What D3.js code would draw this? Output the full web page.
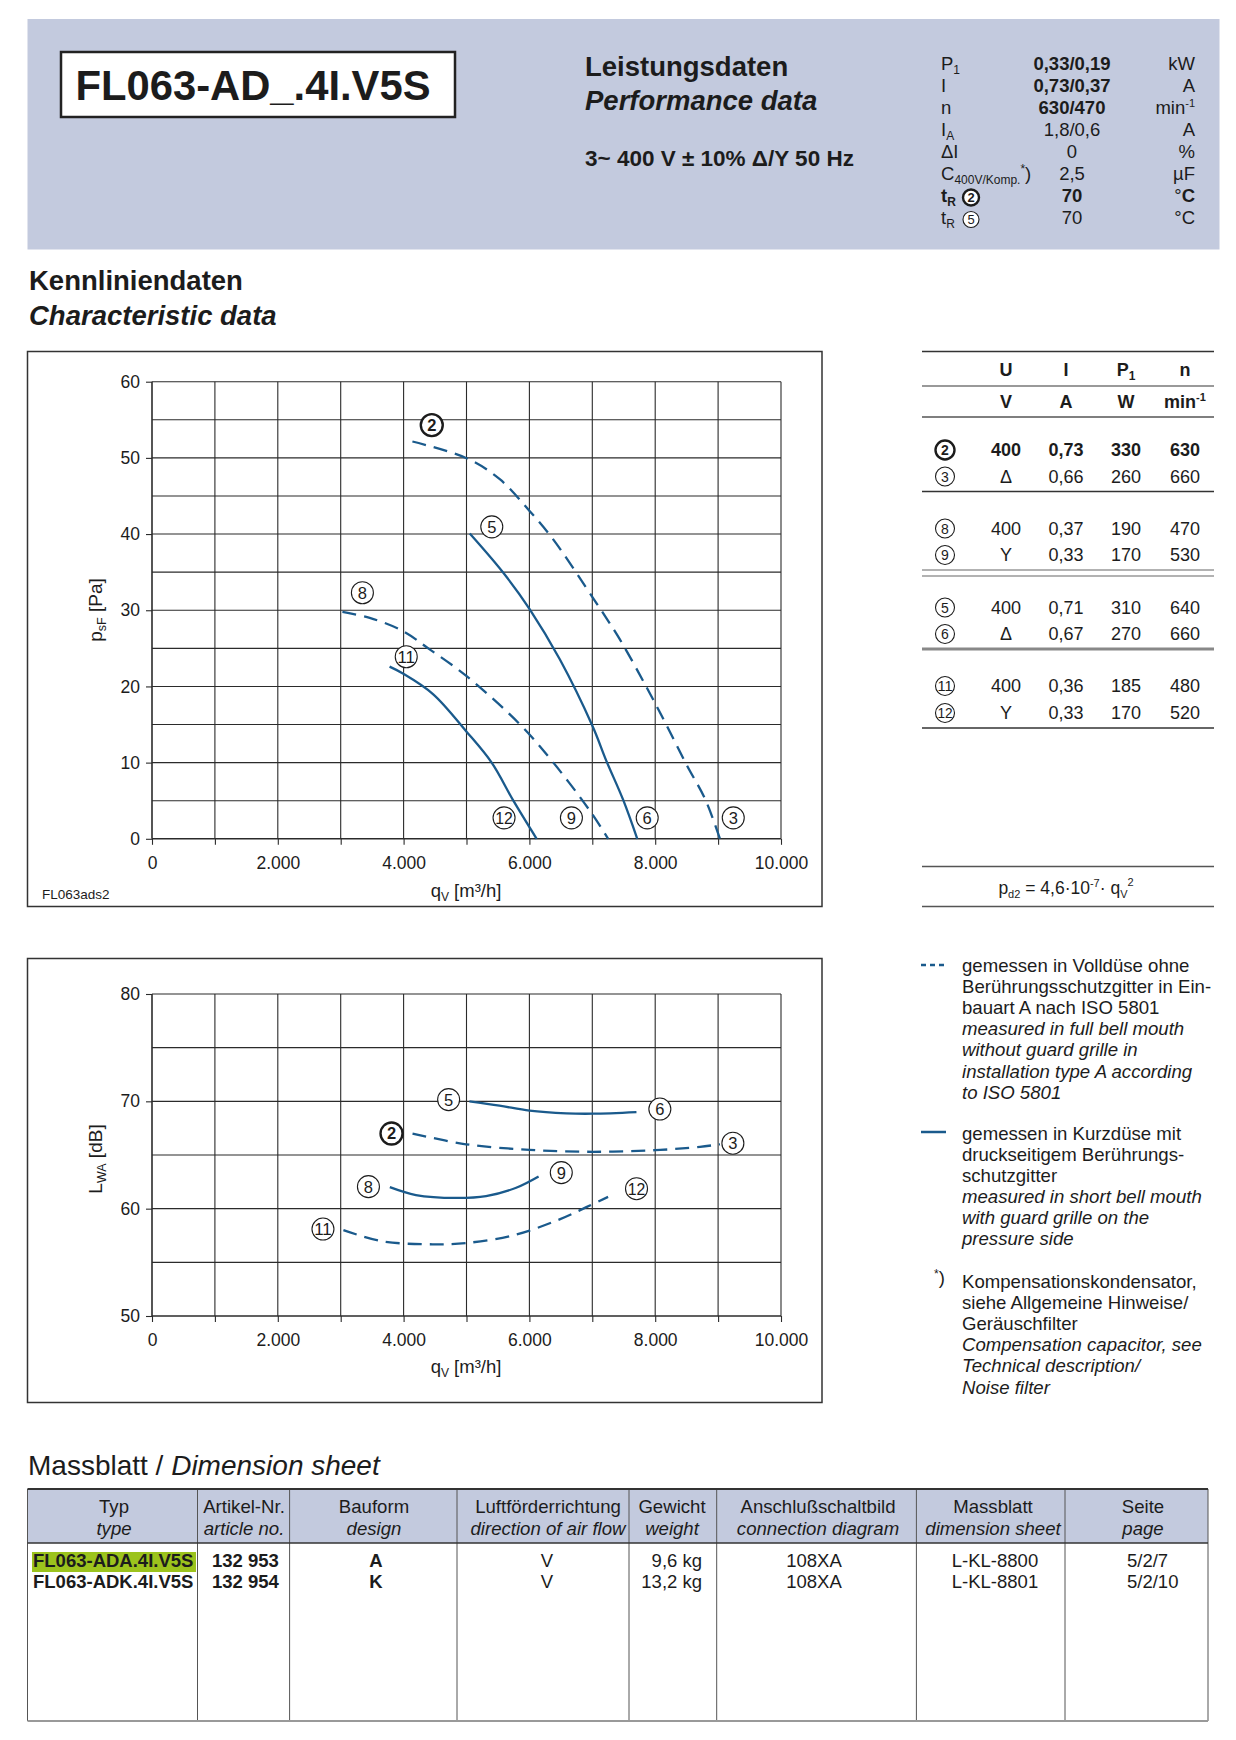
<!DOCTYPE html>
<html><head><meta charset="utf-8">
<script src="https://cdn.jsdelivr.net/npm/d3@7"></script>
<style>
body{margin:0;background:#fff}
svg{display:block}
text{font-family:"Liberation Sans",Arial,Helvetica,sans-serif;fill:#1c1c1c}
</style>
</head><body>
<svg id="c" width="1236" height="1740"></svg>
<script>
// ---------------- DATA ----------------
const modelName = "FL063-AD_.4I.V5S";
const perfValues = ["0,33/0,19","0,73/0,37","630/470","1,8/0,6","0","2,5","70","70"];
const perfUnits  = ["kW","A","min","A","%","µF","°C","°C"];
const perfBold   = [true,true,true,false,false,false,true,false];

const xTickValues = [0,1000,2000,3000,4000,5000,6000,7000,8000,9000,10000];
const pTickValues = [0,10,20,30,40,50,60];
const lTickValues = [50,60,70,80];

// pressure curves  [qV m3/h, psF Pa]
const curveP2  = [[4140,52.15],[5000,49.96],[5529,47.2],[6006,43.0],[6378,39.3],[7020,31.5],[7436,26.2],[7862,19.9],[8181,14.9],[8500,9.7],[8800,5.1],[9029,0]];
const curveP5  = [[5052,40.07],[5582,34.95],[6006,30.13],[6483,23.56],[7003,14.8],[7225,10.2],[7491,5.1],[7715,0]];
const curveP8  = [[3027,29.78],[3461,29.0],[3982,27.3],[4414,24.87],[4997,21.38],[5846,15.05],[6377,10.03],[6960,3.7],[7252,0]];
const curveP11 = [[3777,22.6],[3989,21.7],[4467,19.0],[4997,14.1],[5400,10.0],[5745,5.0],[6115,0]];
const pLabelIds = ["2","5","8","11","12","9","6","3"];
const pLabelX   = [4448,5402,3345,4042,5597,6668,7873,9241];
const pLabelY   = [54.3,40.95,32.3,23.9,2.75,2.75,2.75,2.75];

// sound curves [qV m3/h, LWA dB]
const curveL5  = [[5046,70.0],[5524,69.6],[6002,69.13],[6587,68.88],[7012,68.85],[7702,69.0]];
const curveL2  = [[4142,67.0],[4993,66.0],[6002,65.48],[7012,65.3],[8000,65.45],[8712,65.76],[9030,66.0]];
const curveL8  = [[3781,62.0],[4196,61.27],[4833,61.0],[5311,61.17],[5790,61.95],[6146,63.0]];
const curveL11 = [[3043,58.0],[3664,56.96],[4461,56.68],[4993,56.8],[5736,57.5],[6480,59.0],[6905,60.14],[7251,61.1]];
const lLabelIds = ["5","6","2","3","8","9","12","11"];
const lLabelX   = [4716,8074,3808,9235,3441,6507,7703,2718];
const lLabelY   = [70.16,69.28,67.0,66.1,62.05,63.36,61.86,58.1];

// operating-point table
const tblIds = ["2","3","8","9","5","6","11","12"];
const tblU   = ["400","Δ","400","Y","400","Δ","400","Y"];
const tblI   = ["0,73","0,66","0,37","0,33","0,71","0,67","0,36","0,33"];
const tblP   = ["330","260","190","170","310","270","185","170"];
const tblN   = ["630","660","470","530","640","660","480","520"];

// legend text
const legendDashed = ["gemessen in Volldüse ohne","Berührungsschutzgitter in Ein-","bauart A nach ISO 5801","measured in full bell mouth","without guard grille in","installation type A according","to ISO 5801"];
const legendSolid  = ["gemessen in Kurzdüse mit","druckseitigem Berührungs-","schutzgitter","measured in short bell mouth","with guard grille on the","pressure side"];
const legendNote   = ["Kompensationskondensator,","siehe Allgemeine Hinweise/","Geräuschfilter","Compensation capacitor, see","Technical description/","Noise filter"];

// dimension sheet table
const dimHeadDe = ["Typ","Artikel-Nr.","Bauform","Luftförderrichtung","Gewicht","Anschlußschaltbild","Massblatt","Seite"];
const dimHeadEn = ["type","article no.","design","direction of air flow","weight","connection diagram","dimension sheet","page"];
const dimType   = ["FL063-ADA.4I.V5S","FL063-ADK.4I.V5S"];
const dimArticle= ["132 953","132 954"];
const dimDesign = ["A","K"];
const dimDir    = ["V","V"];
const dimWeight = ["9,6 kg","13,2 kg"];
const dimConn   = ["108XA","108XA"];
const dimSheet  = ["L-KL-8800","L-KL-8801"];
const dimPage   = ["5/2/7","5/2/10"];

// ---------------- DRAW ----------------
const svg = d3.select("#c");
const BLUE = "#1a5a8c";
const BAND = "#c3cade";
svg.append("rect").attr("width",1236).attr("height",1740).attr("fill","#fff");

// header band
svg.append("rect").attr("x",27.5).attr("y",19).attr("width",1192).attr("height",230.5).attr("fill",BAND);
svg.append("rect").attr("x",61).attr("y",52).attr("width",394).attr("height",65).attr("fill","#fff").attr("stroke","#222").attr("stroke-width",2.5);
svg.append("text").attr("x",253).attr("y",100).attr("text-anchor","middle").attr("font-size",42).attr("font-weight","bold")
  .attr("textLength",355).attr("lengthAdjust","spacingAndGlyphs").text(modelName);

svg.append("text").attr("x",585).attr("y",76).attr("font-size",27.5).attr("font-weight","bold").text("Leistungsdaten");
svg.append("text").attr("x",585).attr("y",110).attr("font-size",27.5).attr("font-weight","bold").attr("font-style","italic").text("Performance data");
svg.append("text").attr("x",585).attr("y",166).attr("font-size",22.5).attr("font-weight","bold").text("3~ 400 V ± 10% Δ/Y 50 Hz");

function circ(g, x, y, label, r, bold, fs){
  g.append("circle").attr("cx",x).attr("cy",y).attr("r",r).attr("fill","#fff")
    .attr("stroke","#1c1c1c").attr("stroke-width",bold?2.4:1.1);
  const t = g.append("text").attr("x",x).attr("y",y).attr("dy","0.36em").attr("text-anchor","middle")
    .attr("font-size",fs).attr("font-weight",bold?"bold":"normal").text(label);
  if(label.length>1) t.attr("textLength",r*1.6).attr("lengthAdjust","spacingAndGlyphs");
}

// performance block
const perf = svg.append("g");
const pfs = 18.5, pbase = 69.5, pstep = 22;
function sym(i){ return pbase + i*pstep; }
let t;
t = perf.append("text").attr("x",941).attr("y",sym(0)).attr("font-size",pfs); t.append("tspan").text("P"); t.append("tspan").attr("font-size",12).attr("dy",4).text("1");
perf.append("text").attr("x",941).attr("y",sym(1)).attr("font-size",pfs).text("I");
perf.append("text").attr("x",941).attr("y",sym(2)).attr("font-size",pfs).text("n");
t = perf.append("text").attr("x",941).attr("y",sym(3)).attr("font-size",pfs); t.append("tspan").text("I"); t.append("tspan").attr("font-size",12).attr("dy",4).text("A");
perf.append("text").attr("x",941).attr("y",sym(4)).attr("font-size",pfs).text("ΔI");
t = perf.append("text").attr("x",941).attr("y",sym(5)).attr("font-size",pfs); t.append("tspan").text("C"); t.append("tspan").attr("font-size",12).attr("dy",4).text("400V/Komp.");
  t.append("tspan").attr("font-size",12).attr("dy",-11).text("*"); t.append("tspan").attr("font-size",pfs).attr("dy",7).text(")");
t = perf.append("text").attr("x",941).attr("y",sym(6)).attr("font-size",pfs).attr("font-weight","bold"); t.append("tspan").text("t"); t.append("tspan").attr("font-size",12).attr("dy",4).text("R");
circ(perf, 971, sym(6)-4, "2", 8, true, 13);
t = perf.append("text").attr("x",941).attr("y",sym(7)).attr("font-size",pfs); t.append("tspan").text("t"); t.append("tspan").attr("font-size",12).attr("dy",4).text("R");
circ(perf, 971, sym(7)-4, "5", 8, false, 13);
perfValues.forEach((v,i)=>{
  perf.append("text").attr("x",1072).attr("y",sym(i)).attr("text-anchor","middle").attr("font-size",pfs)
    .attr("font-weight",perfBold[i]?"bold":"normal").text(v);
});
perfUnits.forEach((u,i)=>{
  const tx = perf.append("text").attr("x",1195).attr("y",sym(i)).attr("text-anchor","end").attr("font-size",pfs);
  if(u==="min"){ tx.append("tspan").text("min"); tx.append("tspan").attr("font-size",11).attr("dy",-7).text("-1"); }
  else if(i===6){ tx.append("tspan").text("°"); tx.append("tspan").attr("font-weight","bold").text("C"); }
  else tx.text(u);
});

// section title
svg.append("text").attr("x",29).attr("y",290).attr("font-size",27.5).attr("font-weight","bold").text("Kennliniendaten");
svg.append("text").attr("x",29).attr("y",325).attr("font-size",27.5).attr("font-weight","bold").attr("font-style","italic").text("Characteristic data");

// ---- chart helper ----
const fmtQ = v => v===0 ? "0" : d3.format(",")(v).replace(/,/g,".");
function chart(opt){
  const g = svg.append("g");
  g.append("rect").attr("x",opt.fx).attr("y",opt.fy).attr("width",opt.fw).attr("height",opt.fh)
    .attr("fill","#fff").attr("stroke","#333").attr("stroke-width",1.5);
  const x = d3.scaleLinear().domain([0,10000]).range([152,781]);
  const y = d3.scaleLinear().domain(opt.yDomain).range([opt.y0,opt.y1]);
  // grid
  g.append("g").selectAll("line").data(xTickValues).join("line")
    .attr("x1",d=>x(d)).attr("x2",d=>x(d)).attr("y1",opt.y1).attr("y2",opt.y0)
    .attr("stroke","#2b2b2b").attr("stroke-width",d=>d===0?1.6:1.1);
  g.append("g").selectAll("line").data(opt.gridY).join("line")
    .attr("x1",x(0)).attr("x2",x(10000)).attr("y1",d=>y(d)).attr("y2",d=>y(d))
    .attr("stroke","#2b2b2b").attr("stroke-width",(d,i)=>i===0?1.6:1.1);
  // axes
  const ax = g.append("g").attr("transform",`translate(0,${opt.y0})`)
    .call(d3.axisBottom(x).tickValues(xTickValues).tickSize(6).tickPadding(12)
      .tickFormat(v => v%2000===0 ? fmtQ(v) : ""));
  ax.select(".domain").remove();
  ax.selectAll("line").attr("stroke","#2b2b2b").attr("stroke-width",1.1);
  ax.selectAll("text").attr("font-size",17.5).attr("font-family","Liberation Sans, Arial, sans-serif").attr("fill","#222");
  const ay = g.append("g").attr("transform","translate(152,0)")
    .call(d3.axisLeft(y).tickValues(opt.yTicks).tickSize(6).tickPadding(6));
  ay.select(".domain").remove();
  ay.selectAll("line").attr("stroke","#2b2b2b").attr("stroke-width",1.1);
  ay.selectAll("text").attr("font-size",17.5).attr("font-family","Liberation Sans, Arial, sans-serif").attr("fill","#222");
  // axis titles
  const xt = g.append("text").attr("x",466).attr("y",opt.xTitleY).attr("text-anchor","middle").attr("font-size",18.5);
  xt.append("tspan").text("q"); xt.append("tspan").attr("font-size",12).attr("dy",4).text("V");
  xt.append("tspan").attr("dy",-4).text(" [m³/h]");
  const yt = g.append("text").attr("transform",`translate(102,${opt.yTitleY}) rotate(-90)`).attr("text-anchor","middle").attr("font-size",19);
  yt.append("tspan").text(opt.yName); yt.append("tspan").attr("font-size",12.5).attr("dy",4).text(opt.ySub);
  yt.append("tspan").attr("dy",-4).text(" "+opt.yUnit);
  // curves
  const line = d3.line().x(d=>x(d[0])).y(d=>y(d[1])).curve(d3.curveCatmullRom.alpha(0.5));
  opt.curves.forEach(c=>{
    g.append("path").attr("d",line(c.data)).attr("fill","none").attr("stroke",BLUE)
      .attr("stroke-width",2.3).attr("stroke-dasharray",c.dashed?"14,8":null);
  });
  opt.labels.ids.forEach((id,i)=>{
    circ(g, x(opt.labels.x[i]), y(opt.labels.y[i]), id, 11, id==="2", 16.5);
  });
  return g;
}

const c1 = chart({
  fx:27.5, fy:351.5, fw:794.5, fh:555,
  yDomain:[0,60], y0:838.8, y1:381.7,
  gridY:[0,5,10,15,20,25,30,35,40,45,50,55,60], yTicks:pTickValues,
  xTitleY:897, yTitleY:610, yName:"p", ySub:"sF", yUnit:"[Pa]",
  curves:[{data:curveP2,dashed:true},{data:curveP5,dashed:false},{data:curveP8,dashed:true},{data:curveP11,dashed:false}],
  labels:{ids:pLabelIds,x:pLabelX,y:pLabelY}
});
c1.append("text").attr("x",42).attr("y",899).attr("font-size",13.5).text("FL063ads2");

chart({
  fx:27.5, fy:958.5, fw:794.5, fh:444,
  yDomain:[50,80], y0:1316, y1:994,
  gridY:[50,55,60,65,70,75,80], yTicks:lTickValues,
  xTitleY:1373, yTitleY:1159, yName:"L", ySub:"WA", yUnit:"[dB]",
  curves:[{data:curveL5,dashed:false},{data:curveL2,dashed:true},{data:curveL8,dashed:false},{data:curveL11,dashed:true}],
  labels:{ids:lLabelIds,x:lLabelX,y:lLabelY}
});

// ---- operating point table ----
const tb = svg.append("g");
const TX0 = 922, TX1 = 1214;
const colX = [945,1006,1066,1126,1185];
function hline(y, w, col){ tb.append("line").attr("x1",TX0).attr("x2",TX1).attr("y1",y).attr("y2",y).attr("stroke",col).attr("stroke-width",w); }
hline(351.5,1.3,"#333"); hline(386,1.3,"#777"); hline(417,1.3,"#555");
hline(491.5,1.6,"#333"); hline(570,1.1,"#666"); hline(576,1.1,"#666");
hline(649,3,"#888"); hline(728,1.6,"#333");
hline(866.5,1.3,"#555"); hline(906.5,1.3,"#555");
const hf = 18;
tb.append("text").attr("x",colX[1]).attr("y",376).attr("text-anchor","middle").attr("font-size",hf).attr("font-weight","bold").text("U");
tb.append("text").attr("x",colX[2]).attr("y",376).attr("text-anchor","middle").attr("font-size",hf).attr("font-weight","bold").text("I");
t = tb.append("text").attr("x",colX[3]).attr("y",376).attr("text-anchor","middle").attr("font-size",hf).attr("font-weight","bold");
t.append("tspan").text("P"); t.append("tspan").attr("font-size",12).attr("dy",4).text("1");
tb.append("text").attr("x",colX[4]).attr("y",376).attr("text-anchor","middle").attr("font-size",hf).attr("font-weight","bold").text("n");
tb.append("text").attr("x",colX[1]).attr("y",408).attr("text-anchor","middle").attr("font-size",hf).attr("font-weight","bold").text("V");
tb.append("text").attr("x",colX[2]).attr("y",408).attr("text-anchor","middle").attr("font-size",hf).attr("font-weight","bold").text("A");
tb.append("text").attr("x",colX[3]).attr("y",408).attr("text-anchor","middle").attr("font-size",hf).attr("font-weight","bold").text("W");
t = tb.append("text").attr("x",colX[4]).attr("y",408).attr("text-anchor","middle").attr("font-size",hf).attr("font-weight","bold");
t.append("tspan").text("min"); t.append("tspan").attr("font-size",11).attr("dy",-7).text("-1");
const rowY = [456,482.5,534.5,561,613.5,640,692,719];
tblIds.forEach((id,i)=>{
  const b = id==="2";
  circ(tb, colX[0], rowY[i]-6, id, 9.5, b, 14);
  [tblU[i],tblI[i],tblP[i],tblN[i]].forEach((v,k)=>{
    tb.append("text").attr("x",colX[k+1]).attr("y",rowY[i]).attr("text-anchor","middle").attr("font-size",hf)
      .attr("font-weight",b?"bold":"normal").text(v);
  });
});
t = tb.append("text").attr("x",1066).attr("y",894).attr("text-anchor","middle").attr("font-size",17.5);
t.append("tspan").text("p"); t.append("tspan").attr("font-size",11).attr("dy",4).text("d2");
t.append("tspan").attr("dy",-4).text(" = 4,6·10"); t.append("tspan").attr("font-size",11).attr("dy",-7).text("-7");
t.append("tspan").attr("dy",7).text("· q"); t.append("tspan").attr("font-size",11).attr("dy",4).text("V");
t.append("tspan").attr("font-size",11).attr("dy",-12).text("2");

// ---- legend ----
const lg = svg.append("g");
lg.append("line").attr("x1",921).attr("x2",945).attr("y1",965).attr("y2",965).attr("stroke",BLUE).attr("stroke-width",2.5).attr("stroke-dasharray","5,4");
lg.append("line").attr("x1",921).attr("x2",946).attr("y1",1132).attr("y2",1132).attr("stroke",BLUE).attr("stroke-width",2.5);
function block(lines, y0){
  lines.forEach((s,i)=>{
    lg.append("text").attr("x",962).attr("y",y0+i*21.1).attr("font-size",18.6)
      .attr("font-style",i>=3?"italic":"normal").text(s);
  });
}
block(legendDashed, 972);
block(legendSolid, 1139.5);
block(legendNote, 1288);
t = lg.append("text").attr("x",934).attr("y",1284).attr("font-size",18.6);
t.append("tspan").attr("font-size",12).attr("dy",-6).text("*"); t.append("tspan").attr("dy",6).text(")");

// ---- dimension sheet ----
const dm = svg.append("g");
t = dm.append("text").attr("x",28).attr("y",1475).attr("font-size",28);
t.append("tspan").text("Massblatt / "); t.append("tspan").attr("font-style","italic").text("Dimension sheet");
const DX0 = 27.5, DX1 = 1208, DY0 = 1489, DYH = 1543, DY1 = 1721;
dm.append("rect").attr("x",DX0).attr("y",DY0).attr("width",DX1-DX0).attr("height",DYH-DY0).attr("fill",BAND);
const sepX = [197.5,289.6,457,629,716.7,916.4,1065];
sepX.forEach(sx=>dm.append("line").attr("x1",sx).attr("x2",sx).attr("y1",DY0).attr("y2",DY1).attr("stroke","#555").attr("stroke-width",1));
dm.append("line").attr("x1",DX0).attr("x2",DX0).attr("y1",DY0).attr("y2",DY1).attr("stroke","#555").attr("stroke-width",1);
dm.append("line").attr("x1",DX1).attr("x2",DX1).attr("y1",DY0).attr("y2",DY1).attr("stroke","#555").attr("stroke-width",1);
dm.append("line").attr("x1",DX0).attr("x2",DX1).attr("y1",DY0).attr("y2",DY0).attr("stroke","#333").attr("stroke-width",1.8);
dm.append("line").attr("x1",DX0).attr("x2",DX1).attr("y1",DYH).attr("y2",DYH).attr("stroke","#333").attr("stroke-width",1.3);
dm.append("line").attr("x1",DX0).attr("x2",DX1).attr("y1",DY1).attr("y2",DY1).attr("stroke","#999").attr("stroke-width",2);
const headCx = [114,244,374,548,672,818,993,1143];
dimHeadDe.forEach((s,i)=>{
  dm.append("text").attr("x",headCx[i]).attr("y",1513).attr("text-anchor","middle").attr("font-size",18.6).text(s);
  dm.append("text").attr("x",headCx[i]).attr("y",1535).attr("text-anchor","middle").attr("font-size",18.6).attr("font-style","italic").text(dimHeadEn[i]);
});
dm.append("rect").attr("x",32).attr("y",1552).attr("width",164).attr("height",20).attr("fill","#9cc31d");
const dRowY = [1567,1588];
dimType.forEach((s,i)=>{
  const y = dRowY[i];
  dm.append("text").attr("x",33).attr("y",y).attr("font-size",18.5).attr("font-weight","bold").text(s);
  dm.append("text").attr("x",212).attr("y",y).attr("font-size",18.5).attr("font-weight","bold").text(dimArticle[i]);
  dm.append("text").attr("x",376).attr("y",y).attr("text-anchor","middle").attr("font-size",18.5).attr("font-weight","bold").text(dimDesign[i]);
  dm.append("text").attr("x",547).attr("y",y).attr("text-anchor","middle").attr("font-size",18.5).text(dimDir[i]);
  dm.append("text").attr("x",702).attr("y",y).attr("text-anchor","end").attr("font-size",18.5).text(dimWeight[i]);
  dm.append("text").attr("x",814).attr("y",y).attr("text-anchor","middle").attr("font-size",18.5).text(dimConn[i]);
  dm.append("text").attr("x",995).attr("y",y).attr("text-anchor","middle").attr("font-size",18.5).text(dimSheet[i]);
  dm.append("text").attr("x",1127).attr("y",y).attr("font-size",18.5).text(dimPage[i]);
});
</script>
</body></html>
